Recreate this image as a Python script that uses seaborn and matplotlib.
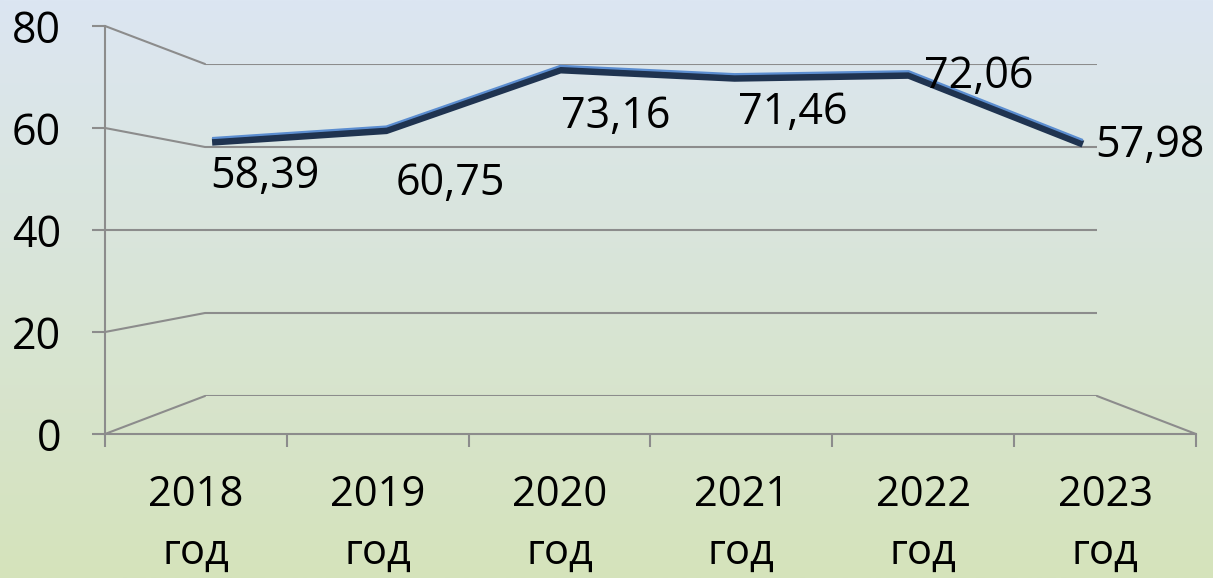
import numpy as np
import pandas as pd
import matplotlib
matplotlib.use("Agg")
import matplotlib.pyplot as plt
from matplotlib.lines import Line2D
from matplotlib.transforms import offset_copy
import seaborn as sns

# ---- data ----
years = ["2018", "2019", "2020", "2021", "2022", "2023"]
year_word = "год"
values = [58.39, 60.75, 73.16, 71.46, 72.06, 57.98]
y_ticks = [0, 20, 40, 60, 80]

# label offsets in pixels (style)
label_offsets = [(53, -37), (64, -55), (55, -49), (58, -37), (70, -4), (67, -4)]

sns.set_theme(style="white")
plt.rcParams['font.family'] = ['Open Sans', 'DejaVu Sans']

W, H = 1213, 578
fig = plt.figure(figsize=(W / 100, H / 100), dpi=100)

def rect(x0, x1, ytop, ybot):
    return [x0 / W, (H - ybot) / H, (x1 - x0) / W, (ybot - ytop) / H]

# background gradient
bg = fig.add_axes([0, 0, 1, 1], zorder=-10)
top = np.array([220, 230, 242]) / 255
bot = np.array([213, 227, 187]) / 255
t = np.linspace(0, 1, 256)[:, None]
grad = top[None, :] * (1 - t) + bot[None, :] * t
bg.imshow(grad[:, None, :], aspect='auto', extent=[0, 1, 0, 1])
bg.set_axis_off()

grid_col = "#8c8c8c"
glw = 1.5
n = len(years)
xlim = (-0.5, n - 0.5)

df = pd.DataFrame({"idx": np.arange(n), "year": years, "value": values})

# back wall
ax_back = fig.add_axes(rect(205, 1097, 64, 396), zorder=1)
ax_back.set_xlim(*xlim)
ax_back.set_ylim(0, 80)
for v in y_ticks:
    ax_back.axhline(v, color=grid_col, lw=glw)
ax_back.set_axis_off()
ax_back.patch.set_alpha(0)

# front axis
ax_front = fig.add_axes(rect(105, 1196, 26, 434), zorder=2)
ax_front.set_xlim(*xlim)
ax_front.set_ylim(0, 80)
ax_front.patch.set_alpha(0)
for s in ["top", "right"]:
    ax_front.spines[s].set_visible(False)
for s in ["left", "bottom"]:
    ax_front.spines[s].set_color(grid_col)
    ax_front.spines[s].set_linewidth(glw)
ax_front.set_yticks(y_ticks)
ax_front.set_yticklabels([str(v) for v in y_ticks], fontsize=31)
ax_front.tick_params(axis='y', direction='out', length=9.5, width=glw,
                     color=grid_col, pad=22, labelcolor='black', left=True)
ax_front.set_xticks(np.arange(-0.5, n, 1.0))
ax_front.set_xticklabels([])
ax_front.tick_params(axis='x', which='major', direction='out', length=9.5,
                     width=glw, color=grid_col, bottom=True)
ax_front.set_xticks(np.arange(n), minor=True)
ax_front.set_xticklabels([f"{y}\n{year_word}" for y in years], minor=True, fontsize=30)
ax_front.tick_params(axis='x', which='minor', length=0, pad=29, labelcolor='black')
for lbl in ax_front.get_xticklabels(minor=True):
    lbl.set_linespacing(1.5)

# line plane
ax_line = fig.add_axes(rect(125, 1170, 34.4, 425.6), zorder=3)
ax_line.set_xlim(*xlim)
ax_line.set_ylim(0, 80)
ax_line.set_axis_off()
ax_line.patch.set_alpha(0)

fig.canvas.draw()

# left wall and floor side lines
inv = fig.transFigure.inverted()
def fig_line(p, q):
    a = inv.transform(p)
    b = inv.transform(q)
    fig.add_artist(Line2D([a[0], b[0]], [a[1], b[1]], color=grid_col, lw=glw, zorder=1.5))

for v in y_ticks:
    fig_line(ax_front.transData.transform((xlim[0], v)), ax_back.transData.transform((xlim[0], v)))
fig_line(ax_front.transData.transform((xlim[1], 0)), ax_back.transData.transform((xlim[1], 0)))

# ribbon line
sns.lineplot(data=df, x="idx", y="value", ax=ax_line, color="#1f3350", lw=5.2, legend=False)
dark = ax_line.lines[-1]
dark.set_transform(offset_copy(ax_line.transData, fig=fig, x=0, y=-2.0, units='dots'))
dark.set_solid_joinstyle('miter')
dark.set_solid_capstyle('butt')
sns.lineplot(data=df, x="idx", y="value", ax=ax_line, color="#5b8dd0", lw=1.6, legend=False)
light = ax_line.lines[-1]
light.set_transform(offset_copy(ax_line.transData, fig=fig, x=0, y=2.0, units='dots'))
light.set_solid_joinstyle('miter')
light.set_solid_capstyle('butt')
ax_line.set_xlim(*xlim)
ax_line.set_ylim(0, 80)
ax_line.set_axis_off()

# data labels
for i, v in enumerate(values):
    dx, dy = label_offsets[i]
    ax_line.annotate(f"{v:.2f}".replace('.', ','), xy=(i, v), xytext=(dx, dy),
                     textcoords='offset pixels', ha='center', va='center',
                     fontsize=31, color='black', annotation_clip=False)

fig.savefig("out.png", dpi=100)
